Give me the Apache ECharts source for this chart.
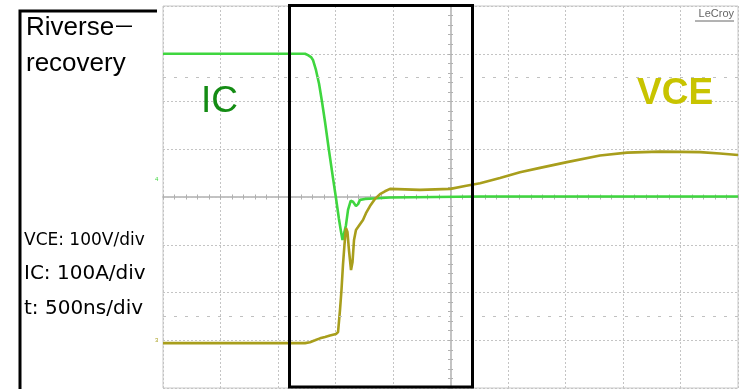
<!DOCTYPE html>
<html>
<head>
<meta charset="utf-8">
<script src="https://cdn.jsdelivr.net/npm/echarts@6/dist/echarts.min.js"></script>
<style>
  html, body { margin: 0; padding: 0; background: #ffffff; }
  #chart { width: 742px; height: 389px; }
</style>
</head>
<body>
<div id="chart"></div>
<script>
// Time base: 500 ns/div, trigger at screen centre (t = 0)
const timeMin = -2500, timeMax = 2500, timeDiv = 500;
// IC channel: 100 A/div, zero on the centre line
const icMin = -400, icMax = 400, icDiv = 100;
// VCE channel: 100 V/div, zero three divisions below centre
const vceMin = -100, vceMax = 700, vceDiv = 100;

// Collector current IC (A) against time (ns)
const icTime = [-2500, -1265, -1239, -1213, -1196, -1170, -1143, -1117, -1091, -1057,
  -1022, -996, -970, -952, -939, -926, -909, -891, -868, -848,
  -822, -804, -787, -743, -674, -526, 257, 2500];
const icAmps = [300, 300, 297, 293, 287, 266, 237, 199, 157, 98,
  40, -2, -46, -73, -90, -86, -59, -27, -8, -10,
  -19, -15, -6, -4, -3, -1, 1, 1];

// Collector-emitter voltage VCE (V) against time (ns)
const vceTime = [-2500, -1265, -1222, -1178, -1135, -1091, -1048, -996, -978, -961,
  -948, -935, -922, -909, -896, -883, -865, -852, -839, -822,
  -804, -787, -761, -735, -700, -657, -613, -570, -526, -265,
  0, 126, 257, 430, 604, 778, 1013, 1300, 1535, 1822,
  2170, 2343, 2500];
const vceVolts = [-6, -6, -4, 0, 4, 7, 10, 13, 17, 63,
  105, 158, 200, 235, 227, 189, 147, 164, 210, 231,
  237, 241, 252, 266, 281, 296, 306, 312, 317, 315,
  317, 323, 329, 340, 352, 361, 373, 387, 393, 395,
  394, 391, 388];

const icData = icTime.map((t, i) => [t, icAmps[i]]);
const vceData = vceTime.map((t, i) => [t, vceVolts[i]]);

const gridColor = '#c4c4c4';
const traceGreen = '#3fd63f';
const traceOlive = '#a89e1c';

const chart = echarts.init(document.getElementById('chart'), null, { renderer: 'canvas' });

const centreAxisLine = { show: true, onZero: true, onZeroAxisIndex: 0, lineStyle: { color: '#c0c0c0', width: 1.5 } };
const centreTick = { show: true, length: 2.5, lineStyle: { color: '#b0b0b0' } };
const centreMinor = { show: true, splitNumber: 5, length: 2.5, lineStyle: { color: '#b0b0b0' } };

const captionFont = '"DejaVu Sans"';

chart.setOption({
  animation: false,
  backgroundColor: '#ffffff',
  grid: {
    left: 163, top: 6, width: 575, height: 382,
    show: true, borderColor: '#c8c8c8', borderWidth: 1
  },
  xAxis: [
    {
      type: 'value', min: timeMin, max: timeMax, interval: timeDiv, position: 'bottom',
      axisLine: centreAxisLine, axisTick: centreTick, minorTick: centreMinor,
      axisLabel: { show: false },
      splitLine: { show: true, lineStyle: { color: gridColor, type: [2, 2], width: 1 } }
    },
    {
      type: 'value', min: timeMin, max: timeMax, interval: timeDiv, position: 'top',
      axisLine: centreAxisLine, axisTick: centreTick, minorTick: centreMinor,
      axisLabel: { show: false }, splitLine: { show: false }
    }
  ],
  yAxis: [
    {
      type: 'value', min: icMin, max: icMax, interval: icDiv, position: 'left',
      axisLine: centreAxisLine, axisTick: centreTick, minorTick: centreMinor,
      axisLabel: { show: false },
      splitLine: { show: true, lineStyle: { color: gridColor, type: [2, 2], width: 1 } }
    },
    {
      type: 'value', min: vceMin, max: vceMax, interval: vceDiv, position: 'right',
      show: false
    },
    {
      type: 'value', min: icMin, max: icMax, interval: icDiv, position: 'right',
      axisLine: centreAxisLine, axisTick: centreTick, minorTick: centreMinor,
      axisLabel: { show: false }, splitLine: { show: false }
    }
  ],
  series: [
    {
      name: 'IC', type: 'line', xAxisIndex: 0, yAxisIndex: 0,
      data: icData, showSymbol: false, smooth: false,
      lineStyle: { color: traceGreen, width: 2.6 },
      markLine: {
        silent: true, symbol: 'none', label: { show: false },
        lineStyle: { color: '#c0c0c0', type: [3, 8], width: 1 },
        data: [{ yAxis: 250 }, { yAxis: -250 }]
      },
      z: 3
    },
    {
      name: 'VCE', type: 'line', xAxisIndex: 0, yAxisIndex: 1,
      data: vceData, showSymbol: false, smooth: false,
      lineStyle: { color: traceOlive, width: 2.6 },
      z: 4
    }
  ],
  graphic: [
    // caption panel border
    { type: 'polyline', z: 100, shape: { points: [[157, 11], [20, 11], [20, 389]] },
      style: { stroke: '#000', lineWidth: 3, fill: null } },
    // reverse-recovery window
    { type: 'rect', z: 100, shape: { x: 289.5, y: 5.5, width: 183, height: 381.5 },
      style: { stroke: '#000', lineWidth: 3, fill: null } },
    { type: 'text', z: 100,
      style: { x: 26, y: 28, text: 'Riverse', verticalAlign: 'middle',
        font: '26px "Liberation Sans"', fill: '#000' } },
    { type: 'text', z: 100,
      style: { x: 113, y: 26, text: '－', verticalAlign: 'middle',
        font: '22px "Noto Sans CJK JP"', fill: '#000' } },
    { type: 'text', z: 100,
      style: { x: 26, y: 64, text: 'recovery', verticalAlign: 'middle',
        font: '26px "Liberation Sans"', fill: '#000' } },
    { type: 'text', z: 100,
      style: { x: 24, y: 241, text: 'VCE: 100V/div', verticalAlign: 'middle',
        font: '17px ' + captionFont, fill: '#000' } },
    { type: 'text', z: 100,
      style: { x: 24, y: 273.5, text: 'IC: 100A/div', verticalAlign: 'middle',
        font: '20px ' + captionFont, fill: '#000' } },
    { type: 'text', z: 100,
      style: { x: 24, y: 308.5, text: 't: 500ns/div', verticalAlign: 'middle',
        font: '20px ' + captionFont, fill: '#000' } },
    { type: 'text', z: 100,
      style: { x: 201, y: 102, text: 'IC', verticalAlign: 'middle',
        font: '37px "Liberation Sans"', fill: '#148c14' } },
    { type: 'text', z: 100,
      style: { x: 637, y: 94, text: 'VCE', verticalAlign: 'middle',
        font: 'bold 37px "Liberation Sans"', fill: '#c8c400' } },
    { type: 'text', z: 100, right: 8, top: 8,
      style: { text: 'LeCroy', font: '11px "Liberation Sans"', fill: '#666' } },
    { type: 'line', z: 100, shape: { x1: 695, y1: 21, x2: 734, y2: 21 },
      style: { stroke: '#666', lineWidth: 1 } },
    { type: 'text', z: 100, left: 155, top: 176,
      style: { text: '4', font: '6px "Liberation Sans"', fill: traceGreen } },
    { type: 'text', z: 100, left: 155, top: 337,
      style: { text: '3', font: '6px "Liberation Sans"', fill: traceOlive } }
  ]
});
</script>
</body>
</html>
